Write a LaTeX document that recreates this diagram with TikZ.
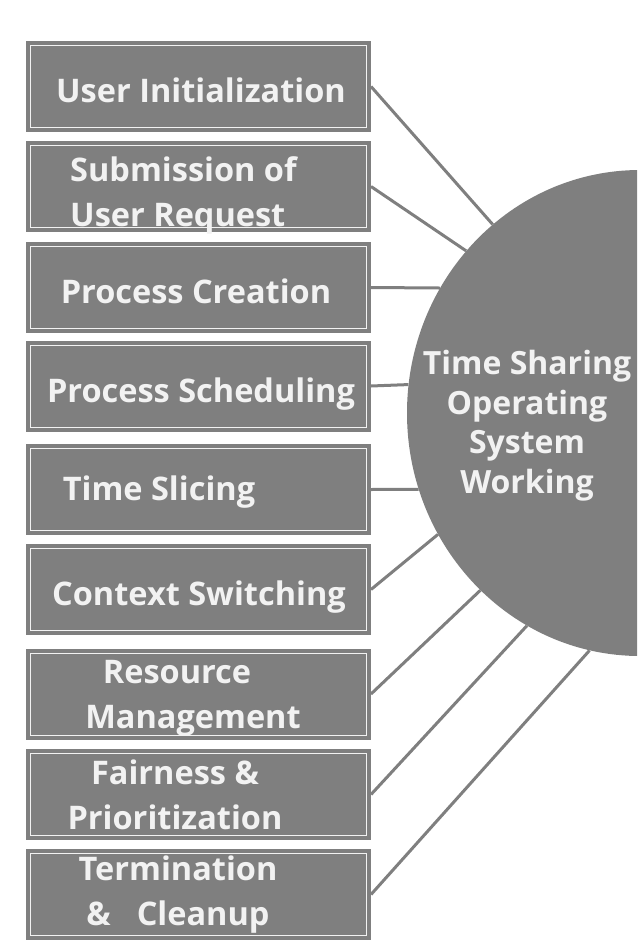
\documentclass[tikz,border=0pt]{standalone}
\usepackage{fontspec}
\setmainfont{Open Sans}
\usetikzlibrary{shapes.geometric}
\definecolor{boxgray}{RGB}{127,127,127}
\definecolor{txtwhite}{RGB}{242,242,242}
\tikzset{
	box/.style={rectangle, fill=boxgray, draw=txtwhite, line width=0.8pt,
		preaction={draw=boxgray, line width=9pt},
		minimum width=336pt, minimum height=82pt, inner sep=0pt, outer sep=4.5pt},
	boxtxt/.style={text=txtwhite, font=\bfseries\fontsize{32.5}{45}\selectfont,
		inner sep=0pt, anchor=base, align=center},
	hubtxt/.style={text=txtwhite, font=\bfseries\fontsize{32}{39.5}\selectfont,
		inner sep=0pt, anchor=base, align=center},
	link/.style={draw=boxgray, line width=3pt},
}
\begin{document}
\begin{tikzpicture}[x=1pt, y=-1pt]
	\useasboundingbox (0,0) rectangle (640,948);
	\clip (0,0) rectangle (637,948);
	
	\node[ellipse, fill=boxgray, minimum width=466pt, minimum height=486pt, inner sep=0pt] (hub) at (640,413) {};
	
	\node[box] (b1) at (198.5,86.5) {};
	\node[box] (b2) at (198.5,186.5) {};
	\node[box] (b3) at (198.5,287.5) {};
	\node[box] (b4) at (198.5,386) {};
	\node[box] (b5) at (198.5,489.5) {};
	\node[box] (b6) at (198.5,589.5) {};
	\node[box] (b7) at (198.5,694) {};
	\node[box] (b8) at (198.5,794.5) {};
	\node[box] (b9) at (198.5,894.5) {};
	
	% spokes into the hub
	\draw[link] (b1.east) -- (hub.128.7);
	\draw[link] (b2.east) -- (hub.137.9);
	\draw[link] (b3.east) -- (hub.148.8);
	\draw[link] (b4.east) -- (hub.173.4);
	\draw[link] (b5.east) -- (hub.199.3);
	\draw[link] (b6.east) -- (hub.211.6);
	\draw[link] (b7.east) -- (hub.228);
	\draw[link] (b8.east) -- (hub.242.7);
	\draw[link] (b9.east) -- (hub.258.2);
	
	\node[hubtxt] (hublbl) at (527,493) {Time Sharing\\Operating\\System\\Working};
	\node[boxtxt] (t1) at (201,102) {User Initialization};
	\node[boxtxt, anchor=base west, align=left] (t2) at (70,226) {Submission of\\User Request};
	\node[boxtxt] (t3) at (196,303) {Process Creation};
	\node[boxtxt] (t4) at (201,402) {Process Scheduling};
	\node[boxtxt] (t5) at (159,500) {Time Slicing};
	\node[boxtxt] (t6) at (199,605) {Context Switching};
	\node[boxtxt] (t7) at (193,728) {Resource\hspace*{32pt}\\Management};
	\node[boxtxt] (t8) at (175,829) {Fairness \&\\Prioritization};
	\node[boxtxt] (t9) at (178,925) {Termination\\\&\hspace{0.8em}Cleanup};
\end{tikzpicture}
\end{document}
